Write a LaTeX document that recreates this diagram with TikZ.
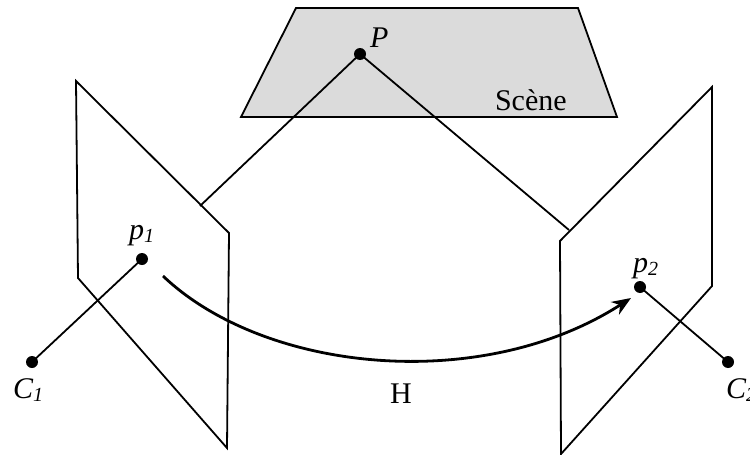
\documentclass[tikz,border=0pt]{standalone}
\usepackage{fontspec}
\setmainfont{Liberation Serif}
\usetikzlibrary{arrows.meta}
\newcommand{\subi}[1]{\raisebox{-0.12em}{\fontsize{20}{20}\selectfont\itshape #1}}
\tikzset{
  x=1pt,y=-1pt,
  edge/.style={draw=black,line width=1.8pt,line join=miter},
  dotnode/.style={circle,fill=black,inner sep=0pt,minimum size=12pt},
  lbl/.style={anchor=base west,inner sep=0pt,outer sep=0pt,font=\fontsize{30}{30}\selectfont},
  homog/.style={draw=black,line width=2.8pt,-{Stealth[length=19pt,width=15pt,inset=6pt]}},
}
\begin{document}
\begin{tikzpicture}
\useasboundingbox (0,0) rectangle (750,455);
% planes
\draw[edge,fill=black!14] (296,8) -- (578,8) -- (617,117) -- (241,117) -- cycle;
\draw[edge] (76,81) -- (229,233) -- (227,448) -- (78,278) -- cycle;
\draw[edge] (712,87) -- (560,241) -- (561,454) -- (712,286) -- cycle;
% points
\node[dotnode] (P) at (360,54) {};
\node[dotnode] (p1) at (142,259) {};
\node[dotnode] (C1) at (32,362) {};
\node[dotnode] (p2) at (640,287) {};
\node[dotnode] (C2) at (728,362) {};
\coordinate (e1) at (200,206);
\coordinate (e2) at (569,230);
\coordinate (hs) at (163,276);
\coordinate (he) at (631,298);
% connectors
\draw[edge] (P.center) -- (e1);
\draw[edge] (P.center) -- (e2);
\draw[edge] (p1.center) -- (C1.center);
\draw[edge] (p2.center) -- (C2.center);
\draw[homog] (hs) .. controls (265,373) and (482,394) .. (he);
% labels
\node[lbl] (lP) at (370,47) {\itshape P};
\node[lbl] (lp1) at (129,239) {\itshape p\subi{1}};
\node[lbl] (lC1) at (13,398) {\itshape C\subi{1}};
\node[lbl] (lp2) at (633,272) {\itshape p\subi{2}};
\node[lbl] (lC2) at (726,398) {\itshape C\subi{2}};
\node[lbl] (lS) at (495,110) {Scène};
\node[lbl] (lH) at (390,403) {H};
\end{tikzpicture}
\end{document}
